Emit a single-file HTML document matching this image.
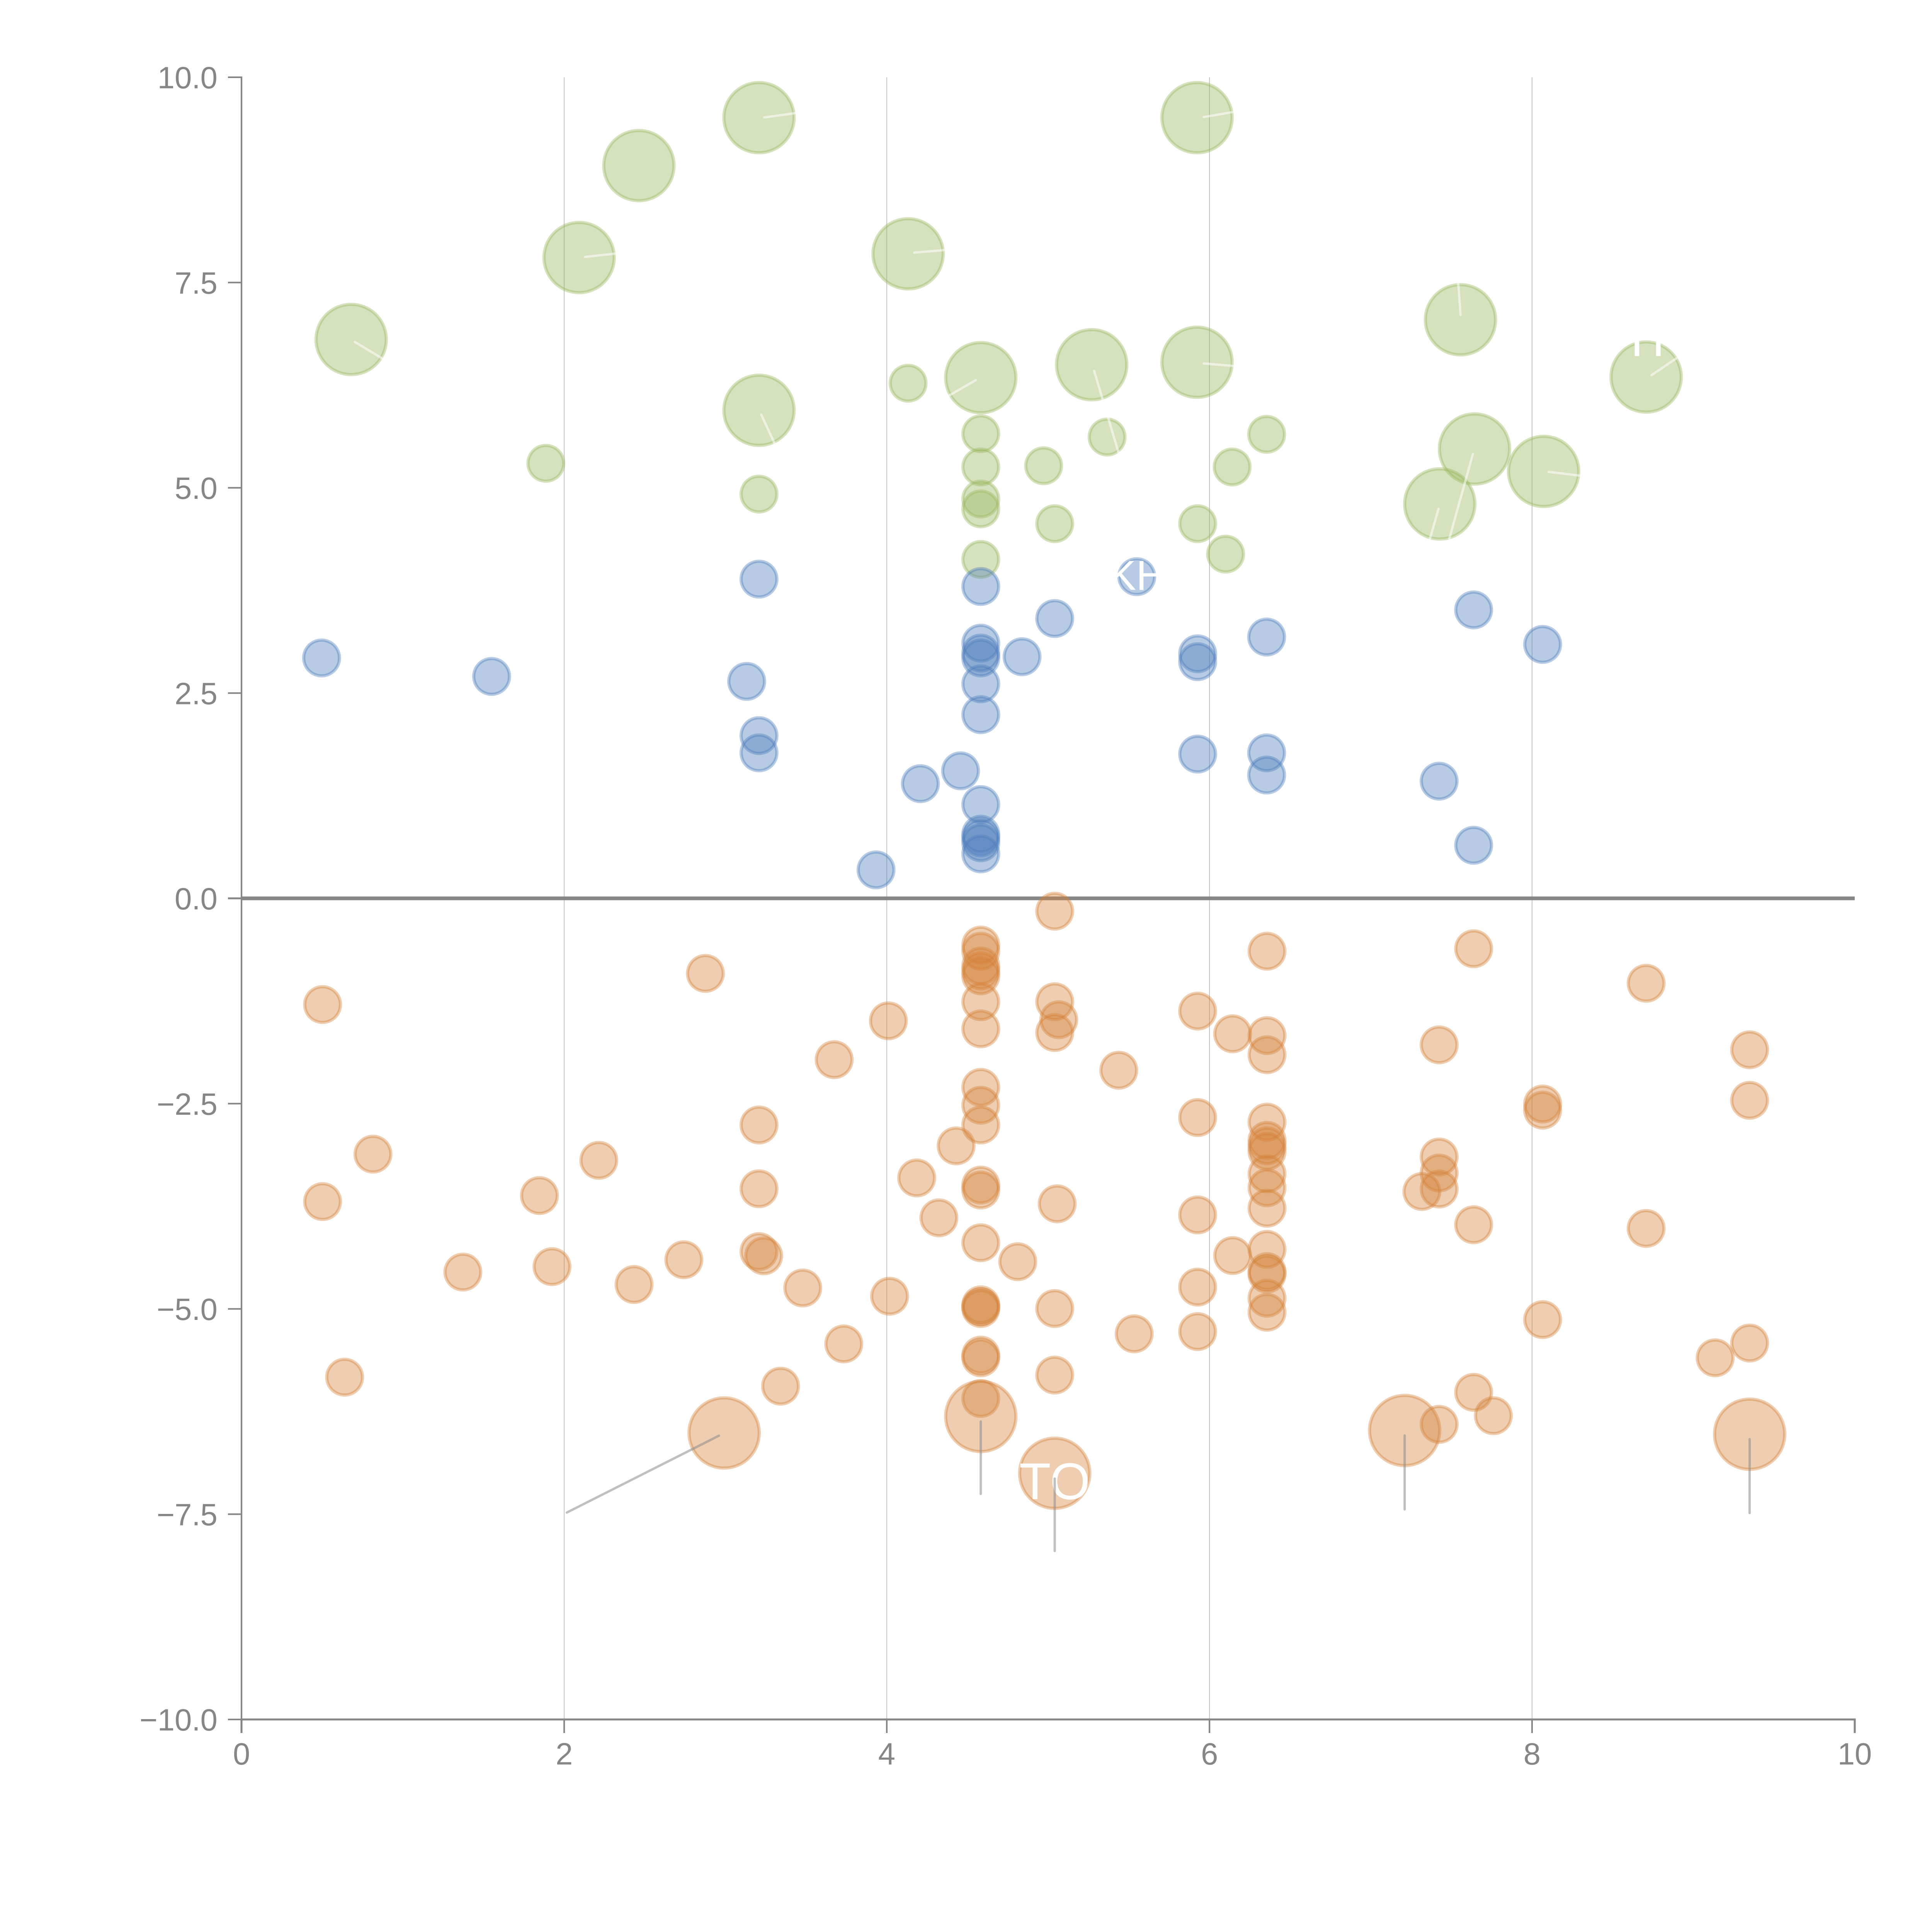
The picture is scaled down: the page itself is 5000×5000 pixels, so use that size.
<!DOCTYPE html>
<html>
<head>
<meta charset="utf-8">
<style>
  html, body { margin:0; padding:0; background:#ffffff; }
  svg { display:block; }
  .tick { font-family:"Liberation Sans", Arial, sans-serif; font-size:25px; fill:#868686; }
  .g circle { fill:#98b65c; fill-opacity:0.4; stroke:#98b65c; stroke-opacity:0.4; stroke-width:2.6; }
  .b circle { fill:#4d7dbb; fill-opacity:0.4; stroke:#4d7dbb; stroke-opacity:0.4; stroke-width:2.6; }
  .o circle { fill:#d48239; fill-opacity:0.4; stroke:#d48239; stroke-opacity:0.4; stroke-width:2.6; }
  .wl line { stroke:#ffffff; stroke-opacity:0.55; stroke-width:1.9; stroke-linecap:round; }
  .gl line { stroke:#8c8c8c; stroke-opacity:0.55; stroke-width:1.9; stroke-linecap:round; }
  .lbl { font-family:"Liberation Sans", Arial, sans-serif; fill:#ffffff; }
</style>
</head>
<body>
<svg width="5000" height="5000" viewBox="0 0 1568 1568" xmlns="http://www.w3.org/2000/svg">
  <rect x="0" y="0" width="1568" height="1568" fill="#ffffff"/>

  <g stroke="#b4b4b4" stroke-width="0.5">
    <line x1="457.9" y1="62.7" x2="457.9" y2="1395.5"/>
    <line x1="719.7" y1="62.7" x2="719.7" y2="1395.5"/>
    <line x1="981.6" y1="62.7" x2="981.6" y2="1395.5"/>
    <line x1="1243.4" y1="62.7" x2="1243.4" y2="1395.5"/>
  </g>

  <line x1="196" y1="729.1" x2="1505.3" y2="729.1" stroke="#868686" stroke-width="3"/>

  <g class="g">
    <circle cx="285" cy="275.5" r="28.5"/>
    <circle cx="470" cy="209" r="28.5"/>
    <circle cx="518.5" cy="134.4" r="28.5"/>
    <circle cx="616" cy="95.5" r="28.5"/>
    <circle cx="737" cy="206" r="28.5"/>
    <circle cx="971.5" cy="95.5" r="28.5"/>
    <circle cx="616" cy="333" r="28.5"/>
    <circle cx="796" cy="306.5" r="28.5"/>
    <circle cx="886" cy="296" r="28.5"/>
    <circle cx="971.5" cy="294" r="28.5"/>
    <circle cx="1185.3" cy="259.5" r="28.5"/>
    <circle cx="1336" cy="306" r="28.5"/>
    <circle cx="1196.7" cy="364.4" r="28.5"/>
    <circle cx="1168.5" cy="409" r="28.5"/>
    <circle cx="1252.8" cy="382.6" r="28.5"/>
    <circle cx="443" cy="376" r="14.5"/>
    <circle cx="616" cy="401" r="14.5"/>
    <circle cx="737" cy="311" r="14.5"/>
    <circle cx="796" cy="352" r="14.5"/>
    <circle cx="796" cy="379" r="14.5"/>
    <circle cx="796" cy="405" r="14.5"/>
    <circle cx="796" cy="413" r="14.5"/>
    <circle cx="796" cy="454" r="14.5"/>
    <circle cx="847" cy="378" r="14.5"/>
    <circle cx="856" cy="425" r="14.5"/>
    <circle cx="898.5" cy="354.7" r="14.5"/>
    <circle cx="972" cy="425" r="14.5"/>
    <circle cx="994.7" cy="449.7" r="14.5"/>
    <circle cx="1000" cy="379" r="14.5"/>
    <circle cx="1028" cy="352.5" r="14.5"/>
  </g>

  <g class="b">
    <circle cx="261" cy="534" r="14.5"/>
    <circle cx="399" cy="549" r="14.5"/>
    <circle cx="606" cy="553" r="14.5"/>
    <circle cx="616" cy="470" r="14.5"/>
    <circle cx="616" cy="597" r="14.5"/>
    <circle cx="616" cy="611" r="14.5"/>
    <circle cx="711" cy="706" r="14.5"/>
    <circle cx="747" cy="636" r="14.5"/>
    <circle cx="779.6" cy="625.6" r="14.5"/>
    <circle cx="796" cy="476" r="14.5"/>
    <circle cx="796" cy="522" r="14.5"/>
    <circle cx="796" cy="530" r="14.5"/>
    <circle cx="796" cy="534" r="14.5"/>
    <circle cx="796" cy="555" r="14.5"/>
    <circle cx="796" cy="580" r="14.5"/>
    <circle cx="796" cy="653" r="14.5"/>
    <circle cx="796" cy="677" r="14.5"/>
    <circle cx="796" cy="680" r="14.5"/>
    <circle cx="796" cy="684" r="14.5"/>
    <circle cx="796" cy="693" r="14.5"/>
    <circle cx="829.5" cy="533" r="14.5"/>
    <circle cx="856" cy="502" r="14.5"/>
    <circle cx="922.6" cy="468" r="14.5"/>
    <circle cx="972" cy="530.6" r="14.5"/>
    <circle cx="972" cy="537" r="14.5"/>
    <circle cx="972" cy="612" r="14.5"/>
    <circle cx="1028" cy="517" r="14.5"/>
    <circle cx="1028" cy="611" r="14.5"/>
    <circle cx="1028" cy="629" r="14.5"/>
    <circle cx="1168" cy="634" r="14.5"/>
    <circle cx="1196" cy="495" r="14.5"/>
    <circle cx="1196" cy="686" r="14.5"/>
    <circle cx="1252" cy="523" r="14.5"/>
  </g>

  <g class="o">
    <circle cx="261.8" cy="815.3" r="14.5"/>
    <circle cx="261.8" cy="975.2" r="14.5"/>
    <circle cx="279.7" cy="1117.7" r="14.5"/>
    <circle cx="302.7" cy="936.7" r="14.5"/>
    <circle cx="375.7" cy="1032.4" r="14.5"/>
    <circle cx="437.8" cy="970.3" r="14.5"/>
    <circle cx="448" cy="1028" r="14.5"/>
    <circle cx="486" cy="941.7" r="14.5"/>
    <circle cx="514.6" cy="1042.5" r="14.5"/>
    <circle cx="555" cy="1022.4" r="14.5"/>
    <circle cx="572.5" cy="790" r="14.5"/>
    <circle cx="616" cy="913" r="14.5"/>
    <circle cx="616" cy="964.8" r="14.5"/>
    <circle cx="616" cy="1015.8" r="14.5"/>
    <circle cx="619.8" cy="1019.2" r="14.5"/>
    <circle cx="633.5" cy="1125" r="14.5"/>
    <circle cx="651.5" cy="1045.3" r="14.5"/>
    <circle cx="677" cy="860" r="14.5"/>
    <circle cx="684.8" cy="1090.7" r="14.5"/>
    <circle cx="721" cy="828.5" r="14.5"/>
    <circle cx="722" cy="1052" r="14.5"/>
    <circle cx="744" cy="956" r="14.5"/>
    <circle cx="762" cy="988.4" r="14.5"/>
    <circle cx="776" cy="930" r="14.5"/>
    <circle cx="796" cy="767" r="14.5"/>
    <circle cx="796" cy="772" r="14.5"/>
    <circle cx="796" cy="784" r="14.5"/>
    <circle cx="796" cy="788" r="14.5"/>
    <circle cx="796" cy="792" r="14.5"/>
    <circle cx="796" cy="813" r="14.5"/>
    <circle cx="796" cy="835" r="14.5"/>
    <circle cx="796" cy="882.5" r="14.5"/>
    <circle cx="796" cy="897" r="14.5"/>
    <circle cx="796" cy="913" r="14.5"/>
    <circle cx="796" cy="961.8" r="14.5"/>
    <circle cx="796" cy="965.8" r="14.5"/>
    <circle cx="796" cy="1008.6" r="14.5"/>
    <circle cx="796" cy="1059" r="14.5"/>
    <circle cx="796" cy="1060.5" r="14.5"/>
    <circle cx="796" cy="1062" r="14.5"/>
    <circle cx="796" cy="1099.8" r="14.5"/>
    <circle cx="796" cy="1102" r="14.5"/>
    <circle cx="796" cy="1135" r="14.5"/>
    <circle cx="826" cy="1024" r="14.5"/>
    <circle cx="856" cy="739.5" r="14.5"/>
    <circle cx="856" cy="813" r="14.5"/>
    <circle cx="859.3" cy="827.6" r="14.5"/>
    <circle cx="856" cy="838" r="14.5"/>
    <circle cx="858" cy="977" r="14.5"/>
    <circle cx="856" cy="1062" r="14.5"/>
    <circle cx="856" cy="1116" r="14.5"/>
    <circle cx="908" cy="868.6" r="14.5"/>
    <circle cx="920.5" cy="1082.5" r="14.5"/>
    <circle cx="972" cy="820.6" r="14.5"/>
    <circle cx="972" cy="907" r="14.5"/>
    <circle cx="972" cy="986" r="14.5"/>
    <circle cx="972" cy="1044.6" r="14.5"/>
    <circle cx="972" cy="1080.7" r="14.5"/>
    <circle cx="1000.4" cy="839" r="14.5"/>
    <circle cx="1000.4" cy="1019" r="14.5"/>
    <circle cx="1028.3" cy="772" r="14.5"/>
    <circle cx="1028.3" cy="840.5" r="14.5"/>
    <circle cx="1028.3" cy="856" r="14.5"/>
    <circle cx="1028.3" cy="910.7" r="14.5"/>
    <circle cx="1028.3" cy="925.5" r="14.5"/>
    <circle cx="1028.3" cy="930" r="14.5"/>
    <circle cx="1028.3" cy="934.5" r="14.5"/>
    <circle cx="1028.3" cy="952.7" r="14.5"/>
    <circle cx="1028.3" cy="964" r="14.5"/>
    <circle cx="1028.3" cy="980.6" r="14.5"/>
    <circle cx="1028.3" cy="1014" r="14.5"/>
    <circle cx="1028.3" cy="1032" r="14.5"/>
    <circle cx="1028.3" cy="1034" r="14.5"/>
    <circle cx="1028.3" cy="1053.6" r="14.5"/>
    <circle cx="1028.3" cy="1065" r="14.5"/>
    <circle cx="1154" cy="967" r="14.5"/>
    <circle cx="1168" cy="848" r="14.5"/>
    <circle cx="1168" cy="939" r="14.5"/>
    <circle cx="1168" cy="952" r="14.5"/>
    <circle cx="1168" cy="965" r="14.5"/>
    <circle cx="1168" cy="1156" r="14.5"/>
    <circle cx="1196" cy="770" r="14.5"/>
    <circle cx="1196" cy="994" r="14.5"/>
    <circle cx="1196" cy="1130" r="14.5"/>
    <circle cx="1212" cy="1149" r="14.5"/>
    <circle cx="1252" cy="896" r="14.5"/>
    <circle cx="1252" cy="901" r="14.5"/>
    <circle cx="1252" cy="1071" r="14.5"/>
    <circle cx="1336" cy="798" r="14.5"/>
    <circle cx="1336" cy="997" r="14.5"/>
    <circle cx="1392" cy="1102" r="14.5"/>
    <circle cx="1420" cy="852" r="14.5"/>
    <circle cx="1420" cy="893" r="14.5"/>
    <circle cx="1420" cy="1090" r="14.5"/>
    <circle cx="587.7" cy="1163" r="28.5"/>
    <circle cx="796" cy="1149.6" r="28.5"/>
    <circle cx="856" cy="1195.7" r="28.5"/>
    <circle cx="1140" cy="1161" r="28.5"/>
    <circle cx="1420" cy="1164" r="28.5"/>
  </g>

  <g class="wl">
    <line x1="288" y1="277.5" x2="309.8" y2="290.7"/>
    <line x1="474.8" y1="208.5" x2="500.5" y2="205.7"/>
    <line x1="620.3" y1="95.3" x2="645" y2="91.9"/>
    <line x1="617.8" y1="336.5" x2="629" y2="360.6"/>
    <line x1="742" y1="205" x2="766" y2="203"/>
    <line x1="977" y1="95" x2="1000" y2="91"/>
    <line x1="977" y1="295" x2="1001" y2="297"/>
    <line x1="792" y1="308.5" x2="769.6" y2="321.4"/>
    <line x1="888" y1="301" x2="908" y2="368"/>
    <line x1="1185.4" y1="255.6" x2="1183.5" y2="230"/>
    <line x1="1340.3" y1="304.5" x2="1360.7" y2="290.7"/>
    <line x1="1195.4" y1="368.5" x2="1176.3" y2="437"/>
    <line x1="1167.5" y1="413" x2="1160.6" y2="437"/>
    <line x1="1257" y1="383" x2="1282" y2="386"/>
  </g>

  <text class="lbl" x="856" y="1216.7" font-size="42" text-anchor="middle">TO</text>
  <text class="lbl" x="923" y="478.7" font-size="34" text-anchor="middle">KH</text>
  <text class="lbl" x="1343" y="289" font-size="40" text-anchor="middle">TH</text>

  <g class="gl">
    <line x1="583.5" y1="1165.2" x2="460" y2="1227.6"/>
    <line x1="796" y1="1153.7" x2="796" y2="1212.4"/>
    <line x1="856" y1="1200" x2="856" y2="1258.8"/>
    <line x1="1140" y1="1165" x2="1140" y2="1225"/>
    <line x1="1420" y1="1168" x2="1420" y2="1228"/>
  </g>

  <g stroke="#868686" fill="none">
    <path d="M185 62.7 H196 V1395.5" stroke-width="1.3"/>
    <line x1="185" y1="229.3" x2="196" y2="229.3" stroke-width="1.3"/>
    <line x1="185" y1="395.9" x2="196" y2="395.9" stroke-width="1.3"/>
    <line x1="185" y1="562.5" x2="196" y2="562.5" stroke-width="1.3"/>
    <line x1="185" y1="729.1" x2="196" y2="729.1" stroke-width="1.5"/>
    <line x1="185" y1="895.7" x2="196" y2="895.7" stroke-width="1.3"/>
    <line x1="185" y1="1062.3" x2="196" y2="1062.3" stroke-width="1.3"/>
    <line x1="185" y1="1228.9" x2="196" y2="1228.9" stroke-width="1.3"/>
    <line x1="185" y1="1395.5" x2="196" y2="1395.5" stroke-width="1.3"/>
  </g>
  <g stroke="#868686" fill="none">
    <path d="M196 1406.5 V1395.5 H1505.3 V1406.5" stroke-width="1.6"/>
    <line x1="457.9" y1="1395.5" x2="457.9" y2="1406.5" stroke-width="1.3"/>
    <line x1="719.7" y1="1395.5" x2="719.7" y2="1406.5" stroke-width="1.3"/>
    <line x1="981.6" y1="1395.5" x2="981.6" y2="1406.5" stroke-width="1.3"/>
    <line x1="1243.4" y1="1395.5" x2="1243.4" y2="1406.5" stroke-width="1.3"/>
  </g>

  <g class="tick" text-anchor="end">
    <text x="176.5" y="71.7">10.0</text>
    <text x="176.5" y="238.3">7.5</text>
    <text x="176.5" y="404.9">5.0</text>
    <text x="176.5" y="571.5">2.5</text>
    <text x="176.5" y="738.1">0.0</text>
    <text x="176.5" y="904.7">−2.5</text>
    <text x="176.5" y="1071.3">−5.0</text>
    <text x="176.5" y="1237.9">−7.5</text>
    <text x="176.5" y="1404.5">−10.0</text>
  </g>
  <g class="tick" text-anchor="middle">
    <text x="196" y="1432">0</text>
    <text x="457.9" y="1432">2</text>
    <text x="719.7" y="1432">4</text>
    <text x="981.6" y="1432">6</text>
    <text x="1243.4" y="1432">8</text>
    <text x="1505.3" y="1432">10</text>
  </g>
</svg>
</body>
</html>
